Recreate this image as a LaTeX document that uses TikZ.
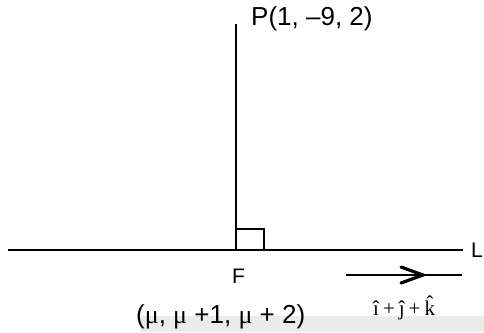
\documentclass[tikz,border=0pt]{standalone}
\usepackage{fontspec}
\setmainfont{Liberation Sans}
\newfontfamily\serifmu{Liberation Serif}
\newcommand{\khat}{\ooalign{k\cr\hidewidth\raisebox{0.2em}{ˆ}\hidewidth\cr}}
\begin{document}
\begin{tikzpicture}[x=1pt,y=-1pt,
  ln/.style={line width=2.8pt,black},
  lbl/.style={inner sep=0pt,anchor=base west,font=\fontsize{26}{30}\selectfont}]
\useasboundingbox (0,0) rectangle (484,332);
\fill[black!8] (140,316) rectangle (484,332);
% points
\coordinate (Ptop) at (236,24);
\coordinate (F) at (236,250);
\coordinate (Lleft) at (8,250);
\coordinate (Lright) at (463,250);
\coordinate (Astart) at (346,275);
\coordinate (Aend) at (462,275);
\coordinate (Atip) at (423,275);
% lines
\draw[ln] (Ptop) -- (F);
\draw[ln] (Lleft) -- (Lright);
\draw[ln] (236,229) -| (264,250);
\draw[ln] (Astart) -- (Aend);
\draw[line width=3.2pt,line cap=round] ([shift={(-22,-8)}]Atip) -- (Atip) -- ([shift={(-22,8)}]Atip);
% labels
\node[lbl] (Plbl) at (251,25.5) {P(1, –9, 2)};
\node[lbl,font=\fontsize{21}{24}\selectfont] (Llbl) at (471,257) {L};
\node[lbl,font=\fontsize{21}{24}\selectfont] (Flbl) at (232,283) {F};
\node[lbl,font=\fontsize{26}{30}\selectfont] (foot) at (136,323) {({\serifmu μ}, {\serifmu μ} +1, {\serifmu μ} + 2)};
\node[lbl,font=\serifmu\fontsize{21}{24}\selectfont] (dir) at (373,315) {î\kern4pt+\kern4pt ĵ\kern4pt+\kern4pt\khat};
\end{tikzpicture}
\end{document}
